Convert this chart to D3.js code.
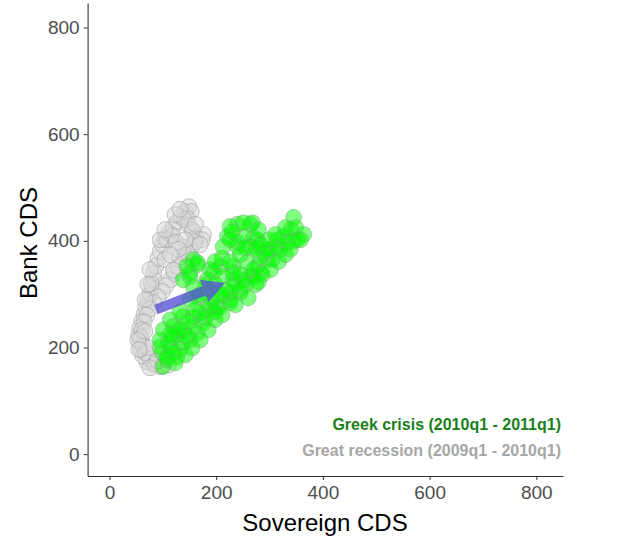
<!DOCTYPE html>
<html>
<head>
<meta charset="utf-8">
<script src="https://cdn.jsdelivr.net/npm/d3@7"></script>
<style>
body { margin: 0; background: #fff; }
text { font-family: "Liberation Sans", Arial, sans-serif; }
</style>
</head>
<body>
<script>
var width = 623,
    height = 539;

// Great recession (2009q1 - 2010q1): sovereign CDS, bank CDS
var recession = [
  [95,164],[82,169],[70,173],[63,184],[59,197],[57,211],[55,224],[57,237],[61,250],[65,263],
  [68,276],[72,290],[76,301],[80,314],[83,327],[83,340],[87,353],[91,367],[95,380],[99,393],
  [104,404],[112,415],[119,425],[127,436],[134,446],[142,455],[149,464],[153,455],[146,442],[149,429],
  [157,417],[162,406],[157,393],[151,382],[144,370],[136,359],[129,350],[121,338],[114,327],[106,316],
  [99,305],[91,295],[83,284],[76,273],[70,261],[65,248],[61,233],[59,218],[63,203],[68,190],
  [76,179],[85,169],[100,166],[108,402],[118,410],[132,370],[138,389],[176,412],[174,402],[125,397],
  [104,365],[78,320],[66,230],[72,200],[90,175],[140,440],[155,420],[160,398],[147,377],[120,345],
  [53,214],[55,196],[67,290],[76,346],[72,318],[95,402],[104,421],[123,449],[132,459],[161,431],
  [170,393],[142,402],[129,384],[114,374],[76,162],[110,167]
];

// Greek crisis (2010q1 - 2011q1)
var greek = [
  [100,164],[108,177],[99,190],[114,201],[132,196],[126,182],[95,201],[108,182],[95,214],[101,233],
  [114,252],[119,220],[138,209],[151,214],[165,227],[138,233],[157,239],[176,246],[138,258],[157,258],
  [170,265],[183,271],[189,276],[202,276],[207,276],[226,284],[226,290],[245,303],[226,303],[202,303],
  [183,303],[165,295],[157,314],[138,327],[151,333],[151,340],[165,355],[165,359],[189,346],[207,352],
  [213,333],[232,327],[232,352],[251,327],[270,333],[264,333],[232,340],[245,308],[258,359],[277,352],
  [270,346],[283,340],[296,365],[305,365],[283,370],[289,378],[302,384],[296,384],[320,384],[315,389],
  [270,406],[264,389],[240,389],[213,389],[240,397],[221,408],[251,408],[240,431],[264,431],[268,434],
  [251,434],[226,427],[277,402],[315,402],[326,408],[333,397],[340,421],[345,444],[364,412],[352,402],
  [345,399],[195,342],[183,327],[157,365],[145,352],[120,240],[128,225],[110,208],[120,190],[145,222],
  [151,290],[170,299],[193,290],[211,299],[198,318],[217,308],[236,318],[245,337],[180,318],[161,271],
  [147,248],[129,233],[114,224],[132,267],[180,256],[198,267],[255,318],[274,318],[287,337],[302,346],
  [317,361],[330,374],[339,384],[279,323],[226,402],[211,368],[198,361],[226,361],[245,374],[255,387],
  [274,384],[283,393],[298,402],[311,412],[330,425],[349,425],[358,402],[230,417],[279,421],[123,171],
  [142,186],[155,199],[170,214],[185,233],[198,252],[211,261],[236,280],[260,293]
];

var ticks = [0, 200, 400, 600, 800];
var arrowFrom = [87, 271],
    arrowTo = [216, 321];

var xscale = d3.scaleLinear().domain([-41, 850]).range([87.6, 563]);
var yscale = d3.scaleLinear().domain([-41, 846]).range([476, 3]);

var svg = d3.select("body").append("svg")
    .attr("width", width)
    .attr("height", height);

// points
svg.append("g")
  .selectAll("circle")
  .data(recession).enter()
  .append("circle")
    .attr("cx", function(d) { return xscale(d[0]); })
    .attr("cy", function(d) { return yscale(d[1]); })
    .attr("r", 8)
    .attr("fill", "rgba(215,215,215,0.5)")
    .attr("stroke", "rgba(160,160,160,0.6)")
    .attr("stroke-width", 1);

svg.append("g")
  .selectAll("circle")
  .data(greek).enter()
  .append("circle")
    .attr("cx", function(d) { return xscale(d[0]); })
    .attr("cy", function(d) { return yscale(d[1]); })
    .attr("r", 8)
    .attr("fill", "rgba(0,255,0,0.5)")
    .attr("stroke", "rgba(150,150,150,0.45)")
    .attr("stroke-width", 1);

// arrow
var x1 = xscale(arrowFrom[0]), y1 = yscale(arrowFrom[1]),
    x2 = xscale(arrowTo[0]), y2 = yscale(arrowTo[1]);
var ang = Math.atan2(y2 - y1, x2 - x1),
    headLen = 22, headW = 12;
var bx = x2 - headLen * Math.cos(ang), by = y2 - headLen * Math.sin(ang);
var px = -Math.sin(ang), py = Math.cos(ang);
var arrow = svg.append("g").attr("opacity", 0.8);
arrow.append("line")
    .attr("x1", x1).attr("y1", y1)
    .attr("x2", bx).attr("y2", by)
    .attr("stroke", "#5a55d6")
    .attr("stroke-width", 10);
arrow.append("path")
    .attr("d", "M" + x2 + "," + y2 +
               "L" + (bx + px * headW) + "," + (by + py * headW) +
               "L" + (bx - px * headW) + "," + (by - py * headW) + "Z")
    .attr("fill", "#5a55d6");

// axes
var xAxis = svg.append("g")
    .attr("transform", "translate(0,476)")
    .call(d3.axisBottom(xscale).tickValues(ticks).tickSizeOuter(0).tickSizeInner(4).tickPadding(6));
var yAxis = svg.append("g")
    .attr("transform", "translate(87.6,0)")
    .call(d3.axisLeft(yscale).tickValues(ticks).tickSizeOuter(0).tickSizeInner(4).tickPadding(4));

[xAxis, yAxis].forEach(function(a) {
  a.select(".domain").attr("stroke", "#333").attr("stroke-width", 1.1);
  a.selectAll(".tick line").attr("stroke", "#333");
  a.selectAll(".tick text")
    .attr("fill", "#4d4d4d")
    .style("font-size", "19px")
    .style("font-family", "'Liberation Sans', Arial, sans-serif");
});

// axis titles
svg.append("text")
    .attr("x", 325)
    .attr("y", 531)
    .attr("text-anchor", "middle")
    .style("font-size", "24px")
    .text("Sovereign CDS");

svg.append("text")
    .attr("transform", "translate(37,243) rotate(-90)")
    .attr("text-anchor", "middle")
    .style("font-size", "24px")
    .text("Bank CDS");

// labels
svg.append("text")
    .attr("x", 561)
    .attr("y", 430)
    .attr("text-anchor", "end")
    .attr("fill", "#1b7f1b")
    .style("font-size", "16px")
    .style("font-weight", "bold")
    .text("Greek crisis (2010q1 - 2011q1)");

svg.append("text")
    .attr("x", 561)
    .attr("y", 456)
    .attr("text-anchor", "end")
    .attr("fill", "#a6a6a6")
    .style("font-size", "16px")
    .style("font-weight", "bold")
    .text("Great recession (2009q1 - 2010q1)");
</script>
</body>
</html>
